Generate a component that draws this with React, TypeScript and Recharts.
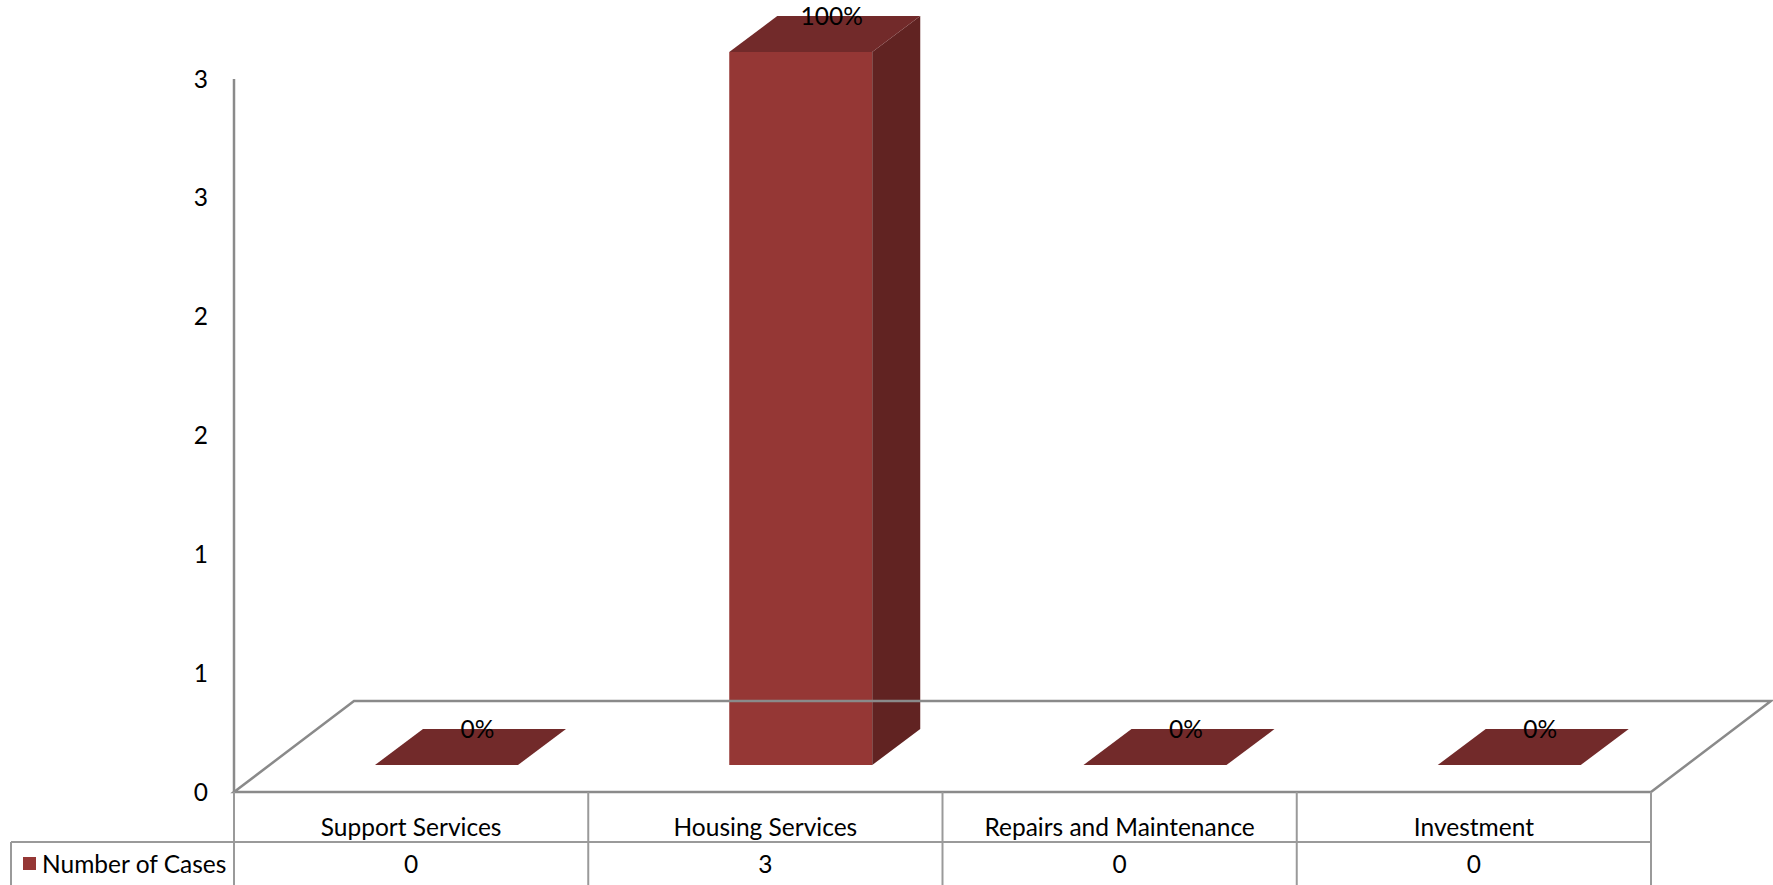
import React from 'react';
import { BarChart, Bar, XAxis, YAxis, ReferenceLine, LabelList } from 'recharts';

const categories = ['Support Services', 'Housing Services', 'Repairs and Maintenance', 'Investment'];
const cases = [0, 3, 0, 0];
const seriesName = 'Number of Cases';
const yTicks = [0, 0.5, 1, 1.5, 2, 2.5, 3];

const total = cases.reduce((a, b) => a + b, 0);
const data = categories.map((name, i) => ({
  name,
  cases: cases[i],
  pct: total ? Math.round((cases[i] / total) * 100) : 0,
}));

// layout
const W = 1773;
const H = 885;
const LEFT = 234;
const RIGHT = 122;
const TOP = 79;
const TABLE_H = 93;
const PLOT_W = W - LEFT - RIGHT;
const COL_W = PLOT_W / categories.length;

// 3D offsets: floor depth, bar placement on the floor, bar depth
const FLOOR_DX = 120;
const FLOOR_DY = 91;
const OX = 35;
const OY = -27;
const DX = 48;
const DY = 36;

const FONT = 'Lato, "Open Sans", sans-serif';
const FS = 24.5;
const AXIS_GREY = '#8a8a8a';
const TABLE_GREY = '#9a9a9a';
const FRONT = '#953735';
const SIDE = '#612322';
const TOPC = '#722a2a';

const Bar3D = (props: any) => {
  const { x, y, width, height } = props;
  const fx = x + OX;
  const fy = y + OY;
  const h = Math.max(0, height);
  return (
    <g>
      {h > 0 && <rect x={fx} y={fy} width={width} height={h} fill={FRONT} />}
      {h > 0 && (
        <polygon
          points={`${fx + width},${fy} ${fx + width + DX},${fy - DY} ${fx + width + DX},${fy + h - DY} ${fx + width},${fy + h}`}
          fill={SIDE}
        />
      )}
      <polygon
        points={`${fx},${fy} ${fx + DX},${fy - DY} ${fx + width + DX},${fy - DY} ${fx + width},${fy}`}
        fill={TOPC}
      />
    </g>
  );
};

const Floor = (props: any) => {
  const { x1, y1, x2, y2 } = props;
  const pts = `${x1},${y1} ${x2},${y2} ${x2 + FLOOR_DX},${y2 - FLOOR_DY} ${x1 + FLOOR_DX},${y1 - FLOOR_DY}`;
  return <polygon points={pts} fill="none" stroke={AXIS_GREY} strokeWidth={2.5} strokeLinejoin="miter" />;
};

const PctLabel = (props: any) => {
  const { x, y, width, value } = props;
  return (
    <text
      x={x + OX + width / 2 + DX / 2 + 7}
      y={y + OY - DY}
      dy="0.35em"
      textAnchor="middle"
      fontFamily={FONT}
      fontSize={FS}
      fill="#000"
    >
      {`${value}%`}
    </text>
  );
};

const YTick = (props: any) => {
  const { x, y, payload } = props;
  return (
    <text x={x} y={y} dy="0.35em" textAnchor="end" fontFamily={FONT} fontSize={FS} fill="#000">
      {Math.round(payload.value)}
    </text>
  );
};

// data table under the plot: category row, value row and the legend cell
const TableCell = (props: any) => {
  const { x, y, payload, index } = props;
  const x0 = x - COL_W / 2;
  const x1 = x + COL_W / 2;
  const mid = y + 50;
  const last = index === categories.length - 1;
  return (
    <g>
      <line x1={x0} y1={y} x2={x0} y2={H} stroke={TABLE_GREY} strokeWidth={2} />
      {last && <line x1={x1} y1={y} x2={x1} y2={H} stroke={TABLE_GREY} strokeWidth={2} />}
      <line x1={x0} y1={mid} x2={x1} y2={mid} stroke={TABLE_GREY} strokeWidth={2} />
      <text x={x} y={y + 35} dy="0.35em" textAnchor="middle" fontFamily={FONT} fontSize={FS} fill="#000">
        {payload.value}
      </text>
      <text x={x} y={mid + 22} dy="0.35em" textAnchor="middle" fontFamily={FONT} fontSize={FS} fill="#000">
        {cases[index]}
      </text>
      {index === 0 && (
        <g>
          <line x1={11} y1={mid} x2={x0} y2={mid} stroke={TABLE_GREY} strokeWidth={2} />
          <line x1={11} y1={mid} x2={11} y2={H} stroke={TABLE_GREY} strokeWidth={2} />
          <rect x={23} y={857} width={13} height={13} fill={FRONT} />
          <text x={42} y={mid + 22} dy="0.35em" fontFamily={FONT} fontSize={FS} fill="#000">
            {seriesName}
          </text>
        </g>
      )}
    </g>
  );
};

export default function App() {
  return (
    <div style={{ position: 'absolute', left: 0, top: 0, width: W, height: H, background: '#fff' }}>
      <BarChart
        width={W}
        height={H}
        data={data}
        margin={{ top: TOP, right: RIGHT, bottom: 0, left: 0 }}
        barSize={143}
      >
        <XAxis
          dataKey="name"
          height={TABLE_H}
          axisLine={false}
          tickLine={false}
          tickSize={0}
          tickMargin={0}
          interval={0}
          tick={<TableCell />}
        />
        <YAxis
          width={LEFT}
          domain={[0, 3]}
          ticks={yTicks}
          interval={0}
          axisLine={{ stroke: AXIS_GREY, strokeWidth: 2.5 }}
          tickLine={false}
          tickSize={0}
          tickMargin={26}
          tick={<YTick />}
        />
        <ReferenceLine y={0} shape={<Floor />} ifOverflow="visible" />
        <Bar dataKey="cases" name={seriesName} shape={<Bar3D />} isAnimationActive={false}>
          <LabelList dataKey="pct" content={<PctLabel />} />
        </Bar>
      </BarChart>
    </div>
  );
}
